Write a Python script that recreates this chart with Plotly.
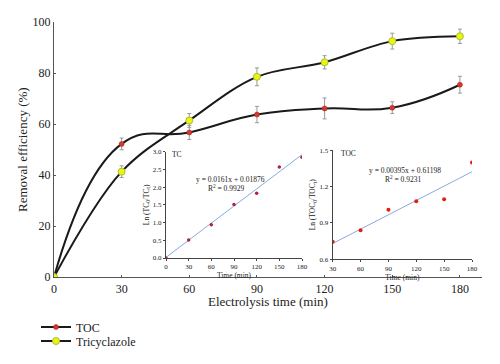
import plotly.graph_objects as go

time = [0, 30, 60, 90, 120, 150, 180]
toc = [0, 52.2, 56.7, 63.7, 66.1, 66.4, 75.4]
toc_err = [0, 2.3, 2.8, 3.2, 4.1, 2.3, 3.3]
tric = [0, 41.3, 61.4, 78.5, 84.2, 92.5, 94.4]
tric_err = [0, 2.3, 2.7, 3.5, 2.6, 3.1, 2.8]

tc_t = [0, 30, 60, 90, 120, 150, 180]
tc_ln = [0, 0.51, 0.94, 1.51, 1.83, 2.57, 2.84]
tc_slope, tc_icpt = 0.0161, 0.01876

toc_t = [30, 60, 90, 120, 150, 180]
toc_ln = [0.745, 0.84, 1.01, 1.08, 1.095, 1.40]
toc_slope, toc_icpt = 0.00395, 0.61198

FONT = "Liberation Serif, Times New Roman, DejaVu Serif, serif"
L, R, T, B = 54, 482, 22, 277
W, H = 500, 364

def px(x):
    return (x - L) / (R - L)

def py(y):
    return (B - y) / (B - T)

fig = go.Figure()
fig.add_trace(go.Scatter(
    x=time, y=toc, name="TOC", mode="lines+markers", legend="legend",
    line=dict(color="#1a1a1a", width=2, shape="spline", smoothing=1.3),
    marker=dict(color="#d6382b", size=5, line=dict(color="#a02020", width=0.5)),
    error_y=dict(type="data", array=toc_err, color="#999999", thickness=1, width=2),
))
fig.add_trace(go.Scatter(
    x=time, y=tric, name="Tricyclazole", mode="lines+markers", legend="legend2",
    line=dict(color="#1a1a1a", width=2, shape="spline", smoothing=1.0),
    marker=dict(color="#f2f20a", size=7, line=dict(color="#9cc43a", width=1)),
    error_y=dict(type="data", array=tric_err, color="#999999", thickness=1, width=2),
))

# TC inset
fig.add_trace(go.Scatter(
    x=[0, 180], y=[tc_icpt, tc_icpt + tc_slope * 180], mode="lines",
    line=dict(color="#8aa9e0", width=1), showlegend=False,
    xaxis="x2", yaxis="y2", hoverinfo="skip"))
fig.add_trace(go.Scatter(
    x=tc_t, y=tc_ln, mode="markers", marker=dict(color="#b02040", size=3.5),
    showlegend=False, xaxis="x2", yaxis="y2"))

# TOC inset
fig.add_trace(go.Scatter(
    x=[30, 180], y=[toc_icpt + toc_slope * 30, toc_icpt + toc_slope * 180], mode="lines",
    line=dict(color="#8aa9e0", width=1), showlegend=False,
    xaxis="x3", yaxis="y3", hoverinfo="skip"))
fig.add_trace(go.Scatter(
    x=toc_t, y=toc_ln, mode="markers", marker=dict(color="#e02010", size=4),
    showlegend=False, xaxis="x3", yaxis="y3"))

axis_common = dict(showline=True, linecolor="#555555", linewidth=1.2, showgrid=False,
                   zeroline=False, ticks="inside", ticklen=2, tickcolor="#555555",
                   tickfont=dict(family=FONT, size=12, color="#222222"))
inset_common = dict(showline=True, linecolor="#444444", linewidth=1, showgrid=False,
                    zeroline=False, ticks="outside", ticklen=2, tickcolor="#444444",
                    tickfont=dict(family=FONT, size=7, color="#222222"))

legend_common = dict(xanchor="left", yanchor="middle",
                     font=dict(family=FONT, size=12, color="#222222"), itemwidth=30,
                     bgcolor="rgba(0,0,0,0)", borderwidth=0)

fig.update_layout(
    width=W, height=H,
    margin=dict(l=L, r=W - R, t=T, b=H - B, pad=0, autoexpand=False),
    paper_bgcolor="white", plot_bgcolor="white",
    font=dict(family=FONT, color="#222222"),
    xaxis=dict(range=[0, 189.8], tickvals=[0, 30, 60, 90, 120, 150, 180], **axis_common),
    yaxis=dict(range=[0, 100], tickvals=[0, 20, 40, 60, 80, 100], **axis_common),
    xaxis2=dict(domain=[px(166), px(302)], anchor="y2", range=[0, 180],
                tickvals=[0, 30, 60, 90, 120, 150, 180],
                title=dict(text="Time (min)", font=dict(family=FONT, size=7.5), standoff=1),
                **inset_common),
    yaxis2=dict(domain=[py(258), py(151.7)], anchor="x2", range=[0, 3.0],
                tickvals=[0, 0.5, 1.0, 1.5, 2.0, 2.5, 3.0], tickformat=".1f",
                title=dict(text="Ln (TC<sub>0</sub>/TC<sub>t</sub>)", font=dict(family=FONT, size=7.5), standoff=2),
                **inset_common),
    xaxis3=dict(domain=[px(332.7), px(472)], anchor="y3", range=[30, 180],
                tickvals=[30, 60, 90, 120, 150, 180],
                title=dict(text="Time (min)", font=dict(family=FONT, size=7.5), standoff=1),
                **inset_common),
    yaxis3=dict(domain=[py(259.3), py(150.3)], anchor="x3", range=[0.6, 1.5],
                tickvals=[0.6, 0.9, 1.2, 1.5], tickformat=".1f",
                title=dict(text="Ln (TOC<sub>0</sub>/TOC<sub>t</sub>)", font=dict(family=FONT, size=7.5), standoff=2),
                **inset_common),
    legend=dict(x=px(36), y=py(327), **legend_common),
    legend2=dict(x=px(36), y=py(341), **legend_common),
    showlegend=True,
)

# main axis titles
fig.add_annotation(text="Electrolysis time (min)", x=px(268), y=py(301), xref="paper", yref="paper",
                   showarrow=False, xanchor="center", yanchor="middle",
                   font=dict(family=FONT, size=13, color="#222222"))
fig.add_annotation(text="Removal efficiency (%)", x=px(22), y=py(150), xref="paper", yref="paper",
                   showarrow=False, xanchor="center", yanchor="middle", textangle=-90,
                   font=dict(family=FONT, size=13, color="#222222"))

ann = [
    ("TC", 176.7, 155, "center"),
    ("y = 0.0161x + 0.01876", 230, 179.5, "center"),
    ("R<sup>2</sup> = 0.9929", 226, 187.5, "center"),
    ("TOC", 348, 154, "center"),
    ("y = 0.00395x + 0.61198", 405, 170.5, "center"),
    ("R<sup>2</sup> = 0.9231", 403, 179, "center"),
]
for text, x, y, anc in ann:
    fig.add_annotation(text=text, x=px(x), y=py(y), xref="paper", yref="paper",
                       showarrow=False, xanchor=anc, yanchor="middle",
                       font=dict(family=FONT, size=7.5, color="#222222"))

fig.write_html("out.html", config={"displayModeBar": False},
               post_script="document.body.style.margin='0px';")
